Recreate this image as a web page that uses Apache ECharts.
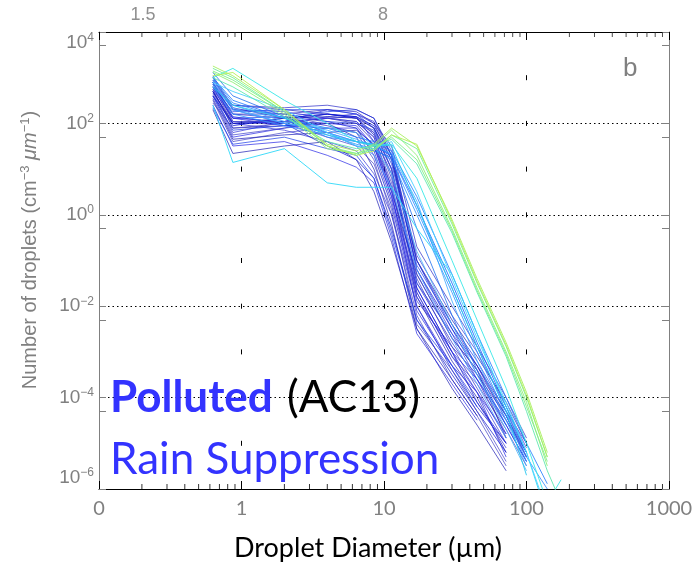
<!DOCTYPE html>
<html><head><meta charset="utf-8">
<script src="https://cdn.jsdelivr.net/npm/echarts@6/dist/echarts.min.js"></script>
<style>html,body{margin:0;padding:0;background:#fff}#c{width:698px;height:563px}</style>
</head><body><div id="c"></div>
<script>
// Droplet diameter bins (µm)
const diameters = [0.63, 0.87, 2.0, 4.0, 6.4, 8.5, 11.3, 17, 30, 45, 72, 100, 140, 175];

// Number of droplets (cm^-3 µm^-1) per profile, dark-blue profiles
const darkBlueLines = [
  [7.9e2, 1.6e2, 1.3e2, 1.6e2, 1.4e2, 7.9e1, 1e1, 3.2e-2, 1.6e-3, 2.5e-4, 1.6e-5],
  [6.3e2, 1e2, 1e2, 1.3e2, 1e2, 4e1, 4, 1.6e-2, 6.3e-4, 1e-4, 6.3e-6],
  [5e2, 6.3e1, 1.1e2, 2e2, 1.6e2, 1e2, 1.6e1, 6.3e-2, 2.5e-3, 5e-4, 3.2e-5, 5e-6],
  [1e3, 2e2, 1.6e2, 1.1e2, 7.9e1, 2e1, 1.6, 1e-2, 4e-4, 6.3e-5, 1e-5],
  [4e2, 5e1, 7.9e1, 1e2, 8.9e1, 3.2e1, 2.5, 2.5e-2, 1e-3, 1.3e-4, 5e-6],
  [7.1e2, 1.3e2, 1.4e2, 1.8e2, 2e2, 1.3e2, 2.5e1, 1e-1, 3.2e-3, 3.2e-4, 2.5e-5, 4e-6],
  [3.2e2, 4e1, 6.3e1, 7.9e1, 6.3e1, 1.6e1, 1, 6.3e-3, 2.5e-4, 4e-5, 3.2e-6],
  [8.9e2, 2.5e2, 2e2, 1.6e2, 1.3e2, 6.3e1, 6.3, 4e-2, 1.3e-3, 1.6e-4, 1.3e-5],
  [5.6e2, 7.9e1, 8.9e1, 1e2, 5e1, 1e1, 6.3e-1, 3.2e-3, 1.6e-4, 2.5e-5, 2.5e-6],
  [5e2, 1e2, 7.1e1, 4e1, 2.5e1, 7.9, 1, 1e-2, 5e-4, 7.9e-5, 7.9e-6],
  [7.9e2, 1.4e2, 1e2, 3.2e1, 1.6e1, 6.3, 5e-1, 5e-3, 3.2e-4, 5e-5, 6.3e-6],
  [2.5e2, 3.2e1, 4e1, 2e1, 1.1e1, 5, 3.2e-1, 2.5e-3, 2e-4, 3.2e-5],
  [6.3e2, 1.8e2, 2e2, 2e2, 1.6e2, 7.9e1, 1.3e1, 7.9e-2, 4e-3, 6.3e-4, 5e-5, 1e-5],
  [4.5e2, 5.6e1, 7.9e1, 1.3e2, 1.1e2, 5e1, 5, 2e-2, 7.9e-4, 2e-4, 2e-5, 3.2e-6],
  [1.1e3, 2.2e2, 1.3e2, 8.9e1, 6.3e1, 2.5e1, 2, 1.3e-2, 1.3e-3, 3.2e-4, 4e-5, 5e-6],
  [3.5e2, 4.5e1, 5.6e1, 6.3e1, 7.1e1, 3.5e1, 3.2, 5e-2, 2e-3, 4e-4, 1.3e-5],
  [7.9e2, 1.1e2, 1e2, 1.4e2, 1.6e2, 1.1e2, 2e1, 1.3e-1, 6.3e-3, 1e-3, 6.3e-5, 7.9e-6],
  [5e2, 8.9e1, 1.3e2, 1.6e2, 1.3e2, 5.6e1, 7.9, 2.5e-2, 1e-3, 7.9e-5, 1e-5],
  [6.3e2, 1.3e2, 1.1e2, 1.3e2, 1.4e2, 4e1, 3.2, 7.9e-3, 5e-4, 1.3e-4, 1.6e-5],
  [4e2, 7.1e1, 8.9e1, 1.1e2, 1e2, 7.1e1, 1e1, 3.2e-2, 2.5e-3, 2.5e-4, 3.2e-5, 6.3e-6],
  [2.8e2, 7.9e1, 1e2, 5e1, 3.2e1, 1.3e1, 1.3, 4e-3, 4e-4, 5e-5, 4e-6],
  [7.1e2, 1.6e2, 1.6e2, 2e2, 1.8e2, 1e2, 3.2e1, 2e-1, 1e-2, 1.3e-3, 1e-4, 1.3e-5],
  [5e2, 1e2, 1.3e2, 1.4e2, 1.3e2, 7.9e1, 1.6e1, 1e-1, 5e-3, 7.9e-4, 7.9e-5, 1e-5],
  [8.9e2, 2e2, 1.8e2, 1.3e2, 1.1e2, 5e1, 4, 2e-2, 7.9e-4, 1.3e-4, 1e-5],
  [4e2, 1e2, 1.1e2, 1.6e2, 1.4e2, 8.9e1, 2e1, 6.3e-2, 3.2e-3, 5e-4, 5e-5, 6.3e-6],
  [5.6e2, 1.3e2, 8.9e1, 7.9e1, 7.9e1, 3.2e1, 2.5, 1.6e-2, 1e-3, 2.5e-4, 2.5e-5, 4e-6],
  [2.2e2, 3.5e1, 5e1, 2.8e1, 2e1, 6.3, 4e-1, 5e-3, 5e-4, 6.3e-5],
  [7.9e2, 1.1e2, 1.1e2, 1e2, 1e2, 6.3e1, 1e1, 5e-2, 2e-3, 4e-4, 4e-5, 5e-6],
  [6.3e2, 2.5e2, 2.2e2, 2.5e2, 2e2, 1.3e2, 2e1, 1e-1, 4e-3, 5e-4, 4e-5, 6.3e-6],
  [2e2, 2.2e1, 3.2e1, 4e1, 1.6e1, 3.2, 2.5e-1, 3.2e-3, 2.5e-4, 4e-5]
];

// medium / light blue profiles
const midBlueLines = [
  [7.9e2, 2e2, 1e2, 6.3e1, 4e1, 3.2e1, 2e1, 1.6, 3.2e-2, 1.6e-3, 6.3e-5, 6.3e-6],
  [1e3, 3.2e2, 1.3e2, 7.9e1, 5e1, 4e1, 2.5e1, 2.5, 5e-2, 2.5e-3, 1e-4, 1e-5, 1.3e-6],
  [6.3e2, 1.6e2, 8.9e1, 5.6e1, 3.5e1, 2.8e1, 1.6e1, 1, 2e-2, 1e-3, 4e-5, 4e-6],
  [8.9e2, 2.5e2, 1.1e2, 7.1e1, 4.5e1, 3.2e1, 2.2e1, 2, 1.3e-2, 6.3e-4, 3.2e-5, 3.2e-6],
  [1.3e3, 4e2, 1.4e2, 6.3e1, 3.2e1, 2.5e1, 1.8e1, 5e-1, 6.3e-3, 4e-4, 2.5e-5],
  [7.1e2, 2e2, 1e2, 7.9e1, 6.3e1, 3.2e1, 7.9, 1.6e-1, 4e-3, 3.2e-4, 2e-5, 2.5e-6],
  [1e3, 2.8e2, 1.3e2, 5e1, 4e1, 3.5e1, 2e1, 1.3, 2.5e-2, 1.3e-3, 5e-5, 5e-6, 1e-6],
  [7.9e2, 2.2e2, 1e2, 6.3e1, 4e1, 2e1, 4, 6.3e-2, 2e-3, 2e-4, 1.3e-5]
];

// cyan profiles
const cyanLines = [
  [2.5e2, 1.4e1, 2.8e1, 5, 4, 4, 4, 5e-1, 5e-2, 2.5e-3, 6.3e-5, 6.3e-6, 2.5e-7],
  [1e3, 1.6e3, 3.2e2, 1e2, 4e1, 3.2e1, 3.5e1, 6.3, 1e-1, 5e-3, 1.6e-4, 1e-5, 5e-7, 1.6e-6],
  [7.9e2, 5e2, 2e2, 6.3e1, 3.2e1, 2.8e1, 4e1, 3.2, 4e-2, 2e-3, 7.9e-5, 6.3e-6, 3.2e-7],
  [6.3e2, 2.5e2, 1.3e2, 5.6e1, 4e1, 3.5e1, 3.2e1, 1.6, 2.5e-2, 1.3e-3, 5e-5, 2e-6]
];

// green / yellow-green profiles
const greenLines = [
  [1.6e3, 1e3, 1.8e2, 3.2e1, 2e1, 2.8e1, 5.6e1, 2.8e1, 6.3e-1, 3.2e-2, 1.3e-3, 1e-4, 5e-6],
  [1.3e3, 7.9e2, 1.6e2, 2.8e1, 2.2e1, 3.2e1, 7.1e1, 2e1, 5e-1, 2.5e-2, 1e-3, 7.9e-5, 3.2e-6],
  [1.8e3, 1.1e3, 2e2, 3.5e1, 2.5e1, 3.5e1, 7.9e1, 3.2e1, 7.9e-1, 4e-2, 1.6e-3, 1.3e-4, 6.3e-6],
  [1e3, 6.3e2, 1.4e2, 4e1, 2.8e1, 3.2e1, 4.5e1, 1.3e1, 4e-1, 2e-2, 7.9e-4, 5e-5, 2.5e-6, 5e-7],
  [1.4e3, 8.9e2, 1.8e2, 3.2e1, 2.2e1, 2.8e1, 5e1, 1.6e1, 4.5e-1, 2.2e-2, 8.9e-4, 6.3e-5, 4e-6],
  [1.1e3, 1.3e3, 2e2, 3.2e1, 2e1, 2.5e1, 5.6e1, 3.5e1, 7.1e-1, 3.5e-2, 1.4e-3, 1.1e-4, 5e-6]
];

const xTickLabels = ['0', '1', '10', '100', '1000'];
const xMinorTickValues = [0.2,0.3,0.4,0.5,0.6,0.7,0.8,0.9, 2,3,4,5,6,7,8,9, 20,30,40,50,60,70,80,90, 200,300,400,500,600,700,800,900];

// styles
const darkBlueColors = ['#2a2ac8', '#1c1cb4', '#3535d8', '#0a14d0', '#2626e6', '#1a3ae8', '#4040c8'];
const midBlueColors = ['#0f5cff', '#1a78ff', '#2a90ff', '#3aa8ff', '#1e6ef0', '#48b4f8', '#2f88ff', '#4fa0ff'];
const cyanColors = ['#30d8f8', '#38e8e8', '#4ad0ff', '#28c8f0'];
const greenColors = ['#70f09a', '#90f078', '#a8f060', '#60e8b0', '#80f088', '#b4f058'];

function toPairs(vals) {
  const out = [];
  vals.forEach((v, i) => { if (v != null) out.push([diameters[i], v]); });
  return out;
}
const series = [];
function addGroup(lines, colors, opacity, z) {
  lines.forEach((vals, i) => {
    series.push({
      type: 'line', data: toPairs(vals), showSymbol: false, symbol: 'none', silent: true,
      xAxisIndex: 0, yAxisIndex: 0, z: z, animation: false,
      lineStyle: { width: 1, color: colors[i % colors.length], opacity: opacity }
    });
  });
}
addGroup(darkBlueLines, darkBlueColors, 0.7, 3);
addGroup(midBlueLines, midBlueColors, 0.8, 4);
addGroup(cyanLines, cyanColors, 0.9, 5);
addGroup(greenLines, greenColors, 0.9, 6);

// minor log ticks on bottom and top x axes
series.push({
  type: 'scatter', xAxisIndex: 0, yAxisIndex: 0, silent: true, clip: false, z: 8, animation: false,
  symbol: 'rect', symbolSize: [1, 5], symbolOffset: [0, -2.5],
  itemStyle: { color: '#000' },
  data: xMinorTickValues.map(v => [v, 1e-6])
});
series.push({
  type: 'scatter', xAxisIndex: 0, yAxisIndex: 0, silent: true, clip: false, z: 8, animation: false,
  symbol: 'rect', symbolSize: [1, 5], symbolOffset: [0, 2.5],
  itemStyle: { color: '#222' },
  data: xMinorTickValues.map(v => [v, 1e4])
});

function expLabel(v) {
  const e = Math.round(Math.log10(v));
  const s = e < 0 ? '\u2212' + (-e) : String(e);
  return '{b|10}{s|' + s + '}';
}

const chart = echarts.init(document.getElementById('c'), null, { renderer: 'canvas' });
chart.setOption({
  animation: false,
  backgroundColor: '#fff',
  grid: { left: 99, top: 32, right: 29, bottom: 74, containLabel: false },
  xAxis: [{
    type: 'log', logBase: 10, min: 0.1, max: 1000, splitNumber: 4, position: 'bottom',
    axisLine: { show: true, lineStyle: { color: '#000', width: 1 } },
    axisTick: { show: true, inside: true, length: 8, lineStyle: { color: '#000' } },
    axisLabel: {
      show: true, margin: 10, color: '#808080', fontSize: 20, fontFamily: 'Lato',
      formatter: function (v) { const i = Math.round(Math.log10(v)) + 1; return xTickLabels[i]; }
    },
    splitLine: { show: true, lineStyle: { color: '#000', width: 1, type: [5, 40.7], dashOffset: 2.5 } },
    minorTick: { show: false }
  }, {
    type: 'log', logBase: 10, min: 0.1, max: 1000, splitNumber: 4, position: 'top',
    axisLine: { show: true, lineStyle: { color: '#000', width: 1 } },
    axisTick: { show: true, inside: true, length: 8, lineStyle: { color: '#000' } },
    axisLabel: { show: false }, splitLine: { show: false }
  }],
  yAxis: [{
    type: 'log', logBase: 10, min: 1e-6, max: 1e4, interval: 2, position: 'left',
    axisLine: { show: true, lineStyle: { color: '#808080', width: 1 } },
    axisTick: { show: true, inside: true, length: 7, lineStyle: { color: '#808080' } },
    minorTick: { show: true, splitNumber: 2, length: 7, lineStyle: { color: '#808080' } },
    axisLabel: {
      show: true, margin: 5, formatter: expLabel,
      verticalAlignMinLabel: 'bottom', verticalAlignMaxLabel: 'top',
      rich: {
        b: { color: '#808080', fontSize: 19, fontFamily: 'Liberation Sans' },
        s: { color: '#808080', fontSize: 12, fontFamily: 'Liberation Sans', padding: [0, 0, 10, 0] }
      }
    },
    splitLine: { show: true, lineStyle: { color: '#000', width: 1, type: [1.5, 3] } }
  }, {
    type: 'log', logBase: 10, min: 1e-6, max: 1e4, interval: 2, position: 'right',
    axisLine: { show: true, lineStyle: { color: '#808080', width: 1 } },
    axisTick: { show: true, inside: true, length: 7, lineStyle: { color: '#808080' } },
    minorTick: { show: true, splitNumber: 2, length: 7, lineStyle: { color: '#808080' } },
    axisLabel: { show: false }, splitLine: { show: false }
  }],
  series: series,
  graphic: [
    { type: 'text', left: 623, top: 56, z: 20, style: { text: 'b', fill: '#808080', font: '26px "Liberation Sans"' } },
    { type: 'text', x: 143, y: 15, z: 20, style: { text: '1.5', fill: '#909090', font: '18px "Liberation Sans"', align: 'center', verticalAlign: 'middle' } },
    { type: 'text', x: 383, y: 15, z: 20, style: { text: '8', fill: '#909090', font: '18px "Liberation Sans"', align: 'center', verticalAlign: 'middle' } },
    { type: 'text', x: 30, y: 250, rotation: Math.PI / 2, z: 20,
      style: { text: '{r|Number of droplets (cm}{s|\u22123}{r| }{i|\u03bcm}{s|\u22121}{r|)}', align: 'center', verticalAlign: 'middle',
        rich: {
          r: { fill: '#808080', font: '20px "Liberation Sans"' },
          i: { fill: '#808080', font: 'italic 20px "Liberation Sans"' },
          s: { fill: '#808080', font: '13px "Liberation Sans"', padding: [0, 0, 9, 0] }
        } } },
    { type: 'text', x: 368, y: 548, z: 20, style: { text: 'Droplet Diameter (\u00b5m)', fill: '#000', font: '27px Lato', align: 'center', verticalAlign: 'middle' } },
    { type: 'text', left: 110, top: 376, z: 20,
      style: { text: '{p|Polluted}{a| (AC13)}', rich: {
        p: { fill: '#3333ff', font: 'bold 44px Lato' },
        a: { fill: '#000', font: '44px Lato', padding: [0, 0, 0, 3] }
      } } },
    { type: 'text', left: 110, top: 438, z: 20, style: { text: 'Rain Suppression', fill: '#3333ff', font: '44px Lato' } }
  ]
});
</script></body></html>
